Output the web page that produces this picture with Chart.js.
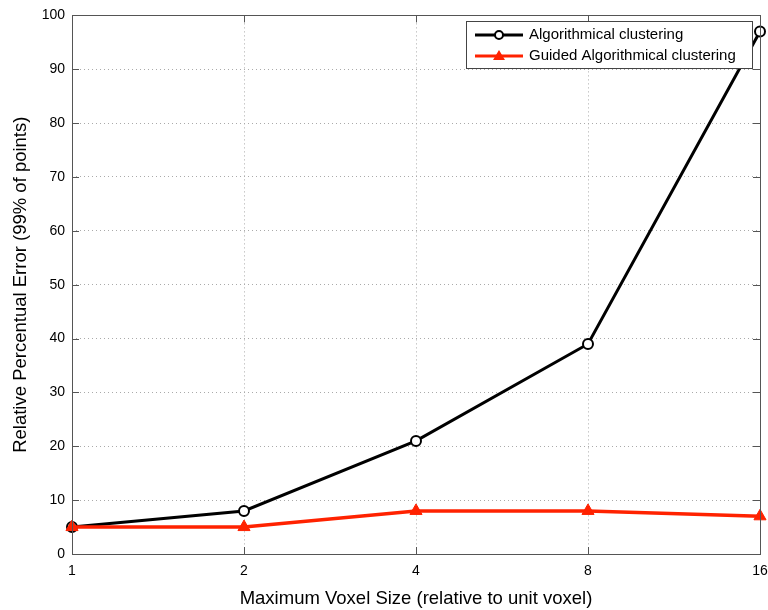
<!DOCTYPE html>
<html>
<head>
<meta charset="utf-8">
<script src="https://cdn.jsdelivr.net/npm/chart.js@4/dist/chart.umd.min.js"></script>
<style>
  html,body{margin:0;padding:0;background:#fff;}
  #wrap{width:768px;height:610px;position:relative;}
</style>
</head>
<body>
<div id="wrap"><canvas id="chart" width="768" height="610"></canvas></div>
<script>
const voxelSizes = ['1','2','4','8','16'];
const algoErr = [5, 8, 21, 39, 97];
const guidedErr = [5, 5, 8, 8, 7];
const seriesNames = ['Algorithmical clustering','Guided Algorithmical clustering'];
const FONT = '"Liberation Sans", Arial, Helvetica, sans-serif';

// box around plot + inward ticks, matlab style
const framePlugin = {
  id: 'frame',
  afterDraw(chart){
    const {ctx, chartArea:a, scales} = chart;
    ctx.save();
    ctx.strokeStyle = '#555';
    ctx.lineWidth = 1;
    ctx.strokeRect(Math.round(a.left)+0.5, Math.round(a.top)+0.5,
                   Math.round(a.right-a.left), Math.round(a.bottom-a.top));
    ctx.beginPath();
    scales.x.ticks.forEach((t,i)=>{
      const px = Math.round(scales.x.getPixelForTick(i))+0.5;
      ctx.moveTo(px, a.bottom); ctx.lineTo(px, a.bottom-7);
      ctx.moveTo(px, a.top); ctx.lineTo(px, a.top+7);
    });
    scales.y.ticks.forEach(t=>{
      const py = Math.round(scales.y.getPixelForValue(t.value))+0.5;
      ctx.moveTo(a.left, py); ctx.lineTo(a.left+7, py);
      ctx.moveTo(a.right, py); ctx.lineTo(a.right-7, py);
    });
    ctx.stroke();
    ctx.restore();
  }
};

// legend box drawn inside the plot, line + marker samples
const legendBox = {
  id: 'legendBox',
  afterDraw(chart){
    const ctx = chart.ctx;
    const x0 = 466, y0 = 21, w = 286, h = 47;
    ctx.save();
    ctx.fillStyle = '#fff';
    ctx.fillRect(x0, y0, w, h);
    ctx.strokeStyle = '#444';
    ctx.lineWidth = 1;
    ctx.strokeRect(x0+0.5, y0+0.5, w, h);
    chart.data.datasets.forEach((ds,i)=>{
      const y = y0 + 14 + i*21;
      ctx.strokeStyle = ds.borderColor;
      ctx.lineWidth = 3;
      ctx.beginPath(); ctx.moveTo(x0+9, y); ctx.lineTo(x0+57, y); ctx.stroke();
      const mx = x0+33;
      if(ds.pointStyle === 'triangle'){
        ctx.fillStyle = ds.borderColor;
        ctx.beginPath();
        ctx.moveTo(mx, y-6); ctx.lineTo(mx+6, y+4); ctx.lineTo(mx-6, y+4); ctx.closePath();
        ctx.fill();
      } else {
        ctx.fillStyle = '#fff';
        ctx.lineWidth = 2;
        ctx.beginPath(); ctx.arc(mx, y, 4, 0, Math.PI*2); ctx.fill(); ctx.stroke();
      }
      ctx.fillStyle = '#000';
      ctx.font = '15px ' + FONT;
      ctx.textBaseline = 'middle';
      ctx.fillText(ds.label, x0+63, y);
    });
    ctx.restore();
  }
};

new Chart(document.getElementById('chart').getContext('2d'), {
  type: 'line',
  data: {
    labels: voxelSizes,
    datasets: [
      { label: seriesNames[0], data: algoErr, borderColor: '#000', backgroundColor: '#fff',
        borderWidth: 3, pointStyle: 'circle', pointRadius: 5, pointBorderWidth: 2,
        pointBackgroundColor: '#fff', pointBorderColor: '#000', tension: 0, clip: false, order: 2 },
      { label: seriesNames[1], data: guidedErr, borderColor: '#ff2200', backgroundColor: '#ff2200',
        borderWidth: 3.5, pointStyle: 'triangle', pointRadius: 7, pointBorderWidth: 1,
        pointBackgroundColor: '#ff2200', pointBorderColor: '#ff2200', tension: 0, clip: false, order: 1 }
    ]
  },
  options: {
    responsive: false,
    animation: false,
    layout: { padding: { top: 2, right: 0, left: 0, bottom: 0 } },
    plugins: { legend: { display: false }, tooltip: { enabled: false } },
    scales: {
      x: {
        offset: false,
        grid: { color: '#aaa', drawTicks: false, lineWidth: 1 },
        border: { display: false, dash: [1,3] },
        ticks: { color: '#000', font: { family: FONT, size: 14 }, padding: 9, maxRotation: 0 },
        title: { display: true, text: 'Maximum Voxel Size (relative to unit voxel)', color: '#000',
                 font: { family: FONT, size: 18.5 }, padding: { top: 4, bottom: 0 } },
        afterFit(s){ s.height = 56; s.paddingRight = 8; }
      },
      y: {
        min: 0, max: 100,
        grid: { color: '#aaa', drawTicks: false, lineWidth: 1 },
        border: { display: false, dash: [1,3] },
        ticks: { stepSize: 10, color: '#000', font: { family: FONT, size: 14 }, padding: 7 },
        title: { display: true, text: 'Relative Percentual Error (99% of points)', color: '#000',
                 font: { family: FONT, size: 18.5 }, padding: { top: 10, bottom: 0 } },
        afterFit(s){ s.width = 72; }
      }
    }
  },
  plugins: [framePlugin, legendBox]
});
</script>
</body>
</html>
